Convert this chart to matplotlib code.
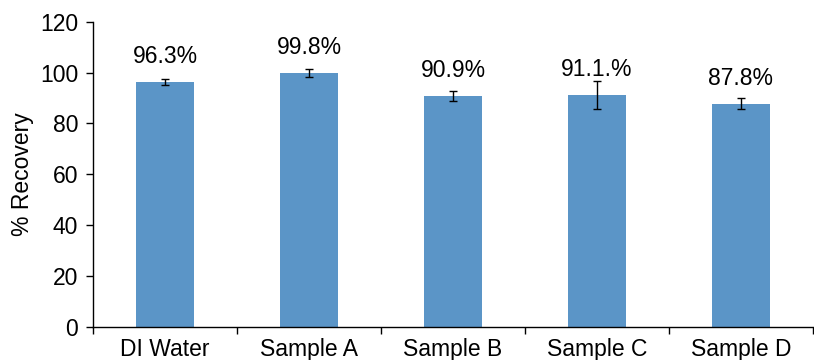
import matplotlib
matplotlib.use("Agg")
import matplotlib.pyplot as plt
import numpy as np

plt.rcParams['font.family'] = ['Liberation Sans', 'DejaVu Sans']

categories = ["DI Water", "Sample A", "Sample B", "Sample C", "Sample D"]
recovery = [96.3, 99.8, 90.9, 91.1, 87.8]
errors = [1.2, 1.5, 2.0, 5.5, 2.2]
labels = ["96.3%", "99.8%", "90.9%", "91.1.%", "87.8%"]

fig = plt.figure(figsize=(8.14, 3.6), dpi=100)
ax = fig.add_axes([0.1146, 0.0925, 0.884, 0.847])
x = np.arange(len(categories))
ax.bar(x, recovery, width=0.4, color="#5B95C7", zorder=2)
ax.errorbar(x, recovery, yerr=errors, fmt='none', ecolor='black', elinewidth=1,
            capsize=3, capthick=1, zorder=3)
for xi, v, lab in zip(x, recovery, labels):
    ax.annotate(lab, (xi, v), xytext=(0, 13.7), textcoords='offset points',
                ha='center', va='baseline', fontsize=16.5)

ax.set_xlim(-0.5, len(categories) - 0.5)
ax.set_ylim(0, 120)
ax.set_yticks(range(0, 121, 20))
ax.set_xticks(x)
ax.set_xticklabels(categories, fontsize=16.5)
ax.tick_params(axis='x', which='major', length=0, pad=8)
ax.set_xticks(np.arange(-0.5, len(categories), 1), minor=True)
ax.tick_params(axis='x', which='minor', length=5, width=1)
ax.tick_params(axis='y', labelsize=16.5, length=5, width=1, pad=6)
ax.set_ylabel("% Recovery", fontsize=16.5, labelpad=4)
for s in ['top', 'right']:
    ax.spines[s].set_visible(False)
for s in ['left', 'bottom']:
    ax.spines[s].set_linewidth(1)

fig.savefig("out.png", dpi=100)
